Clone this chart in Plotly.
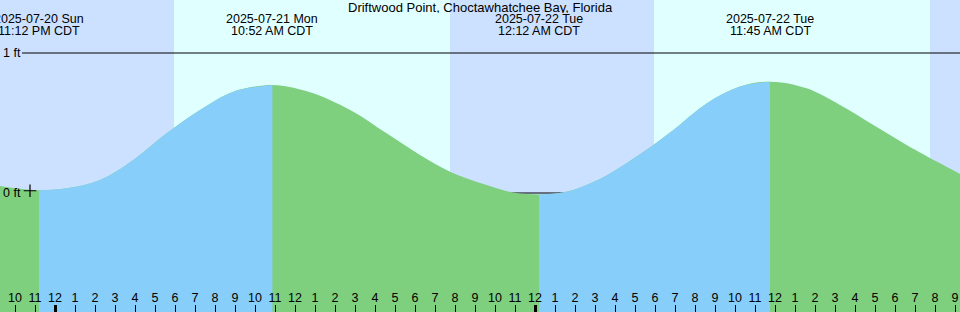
import plotly.graph_objects as go

station = "Driftwood Point, Choctawhatchee Bay, Florida"

# hours since 2025-07-21 00:00 CDT, tide height in feet
curve_hours = [-2.75, -1.75, -0.8, 0.58, 2.25, 3.92, 5.58, 7.25, 8.92, 10.87,
               12.25, 13.25, 14.92, 16.58, 18.25, 19.75, 21.58, 22.92, 24.2,
               25.0, 25.92, 27.58, 29.25, 30.92, 32.58, 34.25, 35.75,
               37.58, 39.25, 40.92, 42.58, 44.25, 45.25]
curve_feet = [0.05, 0.03, 0.02, 0.034, 0.093, 0.236, 0.426, 0.593, 0.724, 0.771,
              0.74, 0.695, 0.581, 0.426, 0.271, 0.152, 0.057, 0.003, -0.01,
              -0.004, 0.022, 0.125, 0.276, 0.45, 0.64, 0.76, 0.795,
              0.748, 0.629, 0.486, 0.343, 0.212, 0.136]

extreme_hours = [-0.8, 10.87, 24.2, 35.75]
extreme_dates = ["2025-07-20 Sun", "2025-07-21 Mon", "2025-07-22 Tue", "2025-07-22 Tue"]
extreme_times = ["11:12 PM CDT", "10:52 AM CDT", "12:12 AM CDT", "11:45 AM CDT"]

sunrise_hours = [5.95, 29.95]
sunset_hours = [19.75, 43.75]

tick_hours = list(range(-2, 46))
tick_labels = ["10", "11",
               "12", "1", "2", "3", "4", "5", "6", "7", "8", "9", "10", "11",
               "12", "1", "2", "3", "4", "5", "6", "7", "8", "9", "10", "11",
               "12", "1", "2", "3", "4", "5", "6", "7", "8", "9", "10", "11",
               "12", "1", "2", "3", "4", "5", "6", "7", "8", "9"]
midnight_hours = [0, 24]

level_values = [0, 1]
level_labels = ["0 ft", "1 ft"]

marker_hours = [-1.25]
marker_feet = [0.016]

X_RANGE = [-2.75, 45.25]
Y_RANGE = [-0.85, 1.3786]

NIGHT = "#cce0ff"
DAY = "#e0ffff"
RISING = "#87cefa"
FALLING = "#7ecf7e"
FONT = "Liberation Sans, Arial, sans-serif"

fig = go.Figure()

# base layer: whole curve in the falling colour
fig.add_trace(go.Scatter(x=[curve_hours[0], curve_hours[-1]], y=[Y_RANGE[0], Y_RANGE[0]],
                         mode="lines", line=dict(width=0), hoverinfo="skip", showlegend=False))
fig.add_trace(go.Scatter(x=curve_hours, y=curve_feet, mode="lines", fill="tonexty",
                         fillcolor=FALLING, line=dict(width=0, color=FALLING, shape="spline"),
                         hoverinfo="skip", showlegend=False))

# rising segments on top
bounds = [X_RANGE[0]] + extreme_hours + [X_RANGE[1]]
for a, b in zip(bounds[:-1], bounds[1:]):
    xs = [t for t in curve_hours if a - 1e-9 <= t <= b + 1e-9]
    ys = [h for t, h in zip(curve_hours, curve_feet) if a - 1e-9 <= t <= b + 1e-9]
    if ys[-1] <= ys[0]:
        continue
    fig.add_trace(go.Scatter(x=[xs[0], xs[-1]], y=[Y_RANGE[0], Y_RANGE[0]],
                             mode="lines", line=dict(width=0), hoverinfo="skip",
                             showlegend=False))
    fig.add_trace(go.Scatter(x=xs, y=ys, mode="lines", fill="tonexty",
                             fillcolor=RISING, line=dict(width=0, color=RISING, shape="spline"),
                             hoverinfo="skip", showlegend=False))

fig.add_trace(go.Scatter(x=marker_hours, y=marker_feet, mode="markers",
                         marker=dict(symbol="cross-thin", size=9,
                                     line=dict(color="black", width=1.2)),
                         hoverinfo="skip", showlegend=False))

fig.add_trace(go.Scatter(x=midnight_hours, y=[Y_RANGE[0]] * 2, xaxis="x2", mode="markers",
                         marker=dict(opacity=0), hoverinfo="skip", showlegend=False))

shapes = []
for sr, ss in zip(sunrise_hours, sunset_hours):
    shapes.append(dict(type="rect", xref="x", yref="paper", x0=sr, x1=ss, y0=0, y1=1,
                       fillcolor=DAY, line=dict(width=0), layer="below"))
for v in level_values:
    shapes.append(dict(type="line", xref="paper", yref="y", x0=22 / 960, x1=1, y0=v, y1=v,
                       line=dict(color="black", width=1), layer="below"))
fig.update_layout(shapes=shapes)

annotations = [dict(text=station, xref="paper", yref="paper", x=0.5, y=1 - 7 / 312,
                    showarrow=False, font=dict(family=FONT, size=13, color="black"),
                    xanchor="center", yanchor="middle", height=12, valign="middle")]
for t, d, tm in zip(extreme_hours, extreme_dates, extreme_times):
    annotations.append(dict(text=d, xref="x", yref="paper", x=t, y=1 - 19 / 312,
                            showarrow=False, font=dict(family=FONT, size=12.5, color="black"),
                            xanchor="center", yanchor="middle", height=12, valign="middle"))
    annotations.append(dict(text=tm, xref="x", yref="paper", x=t, y=1 - 31 / 312,
                            showarrow=False, font=dict(family=FONT, size=12.5, color="black"),
                            xanchor="center", yanchor="middle", height=12, valign="middle"))
for v, lab in zip(level_values, level_labels):
    annotations.append(dict(text=lab, xref="paper", yref="y", x=2 / 960, y=v,
                            showarrow=False, font=dict(family=FONT, size=12.5, color="black"),
                            xanchor="left", yanchor="middle", borderpad=0))
fig.update_layout(annotations=annotations)

fig.update_layout(
    width=960, height=312,
    margin=dict(l=0, r=0, t=0, b=0, pad=0),
    paper_bgcolor=NIGHT, plot_bgcolor=NIGHT,
    showlegend=False,
    xaxis=dict(range=X_RANGE, tickvals=tick_hours, ticktext=tick_labels,
               ticks="inside", ticklen=7, tickwidth=1, tickcolor="black",
               ticklabelposition="inside", showgrid=False, zeroline=False,
               showline=False, tickfont=dict(family=FONT, size=12.5, color="black")),
    xaxis2=dict(range=X_RANGE, overlaying="x", matches="x", anchor="y", side="bottom",
                tickvals=midnight_hours, ticks="inside", ticklen=7, tickwidth=3,
                tickcolor="black", showticklabels=False, showgrid=False,
                zeroline=False, showline=False),
    yaxis=dict(range=Y_RANGE, showticklabels=False, ticks="", showgrid=False,
               zeroline=False, showline=False),
)

fig.write_html("out.html")
